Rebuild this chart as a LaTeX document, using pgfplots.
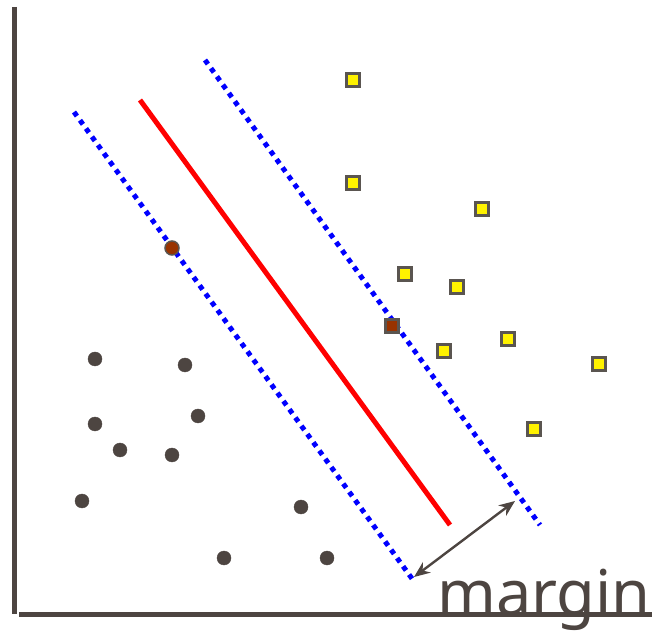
\documentclass[border=0pt]{standalone}
\usepackage{pgfplots}
\pgfplotsset{compat=1.18}
\usepackage{fontspec}
\setmainfont{Noto Sans}
\usetikzlibrary{arrows.meta}
\definecolor{axgray}{HTML}{4D4541}
\definecolor{edgegray}{HTML}{5A5550}
\definecolor{svbrown}{HTML}{993300}
\begin{document}
\begin{tikzpicture}
\begin{axis}[
  width=652pt, height=634pt, scale only axis,
  xmin=0, xmax=652, ymin=0, ymax=634,
  hide axis, clip=false,
]
% axis lines (pixel coordinates, y flipped)
\addplot[axgray, line width=5pt, no marks] coordinates {(14.5,627) (14.5,20)};
\addplot[axgray, line width=5pt, no marks] coordinates {(19,19.5) (652,19.5)};
% hyperplane and margins
\addplot[red, line width=5pt, no marks] coordinates {(140,534) (450,109)};
\addplot[blue, line width=5pt, no marks, dash pattern=on 5pt off 5.2pt] coordinates {(74,522) (413,54)};
\addplot[blue, line width=5pt, no marks, dash pattern=on 5pt off 5.2pt] coordinates {(205,574) (540,109)};
% margin arrow
\addplot[axgray, line width=2.4pt, no marks, {Stealth[length=16pt,width=13pt]}-{Stealth[length=16pt,width=13pt]}] coordinates {(414,57) (515,133)};
% class -1
\addplot[only marks, mark=*, mark size=7pt, draw=axgray, fill=axgray] coordinates {
  (95,275) (185,269) (95,210) (198,218) (120,184) (172,179) (82,133) (301,127) (224,76) (327,76)
};
% class +1
\addplot[only marks, mark=square*, mark size=6.5pt, draw=edgegray, fill=yellow, line width=2.2pt] coordinates {
  (353,554) (353,451) (482,425) (405,360) (457,347) (508,295) (444,283) (599,270) (534,205)
};
% support vectors
\addplot[only marks, mark=*, mark size=7pt, draw=edgegray, fill=svbrown, line width=1.5pt] coordinates {(172,386)};
\addplot[only marks, mark=square*, mark size=6.5pt, draw=edgegray, fill=svbrown, line width=2.2pt] coordinates {(392,308)};
\node[anchor=base west, inner sep=0pt, text=axgray, font=\fontsize{63}{63}\selectfont] at (axis cs:437,19) {margin};
\end{axis}
\pgfresetboundingbox
\path[use as bounding box] (current axis.south west) rectangle (current axis.north east);
\end{tikzpicture}
\end{document}
